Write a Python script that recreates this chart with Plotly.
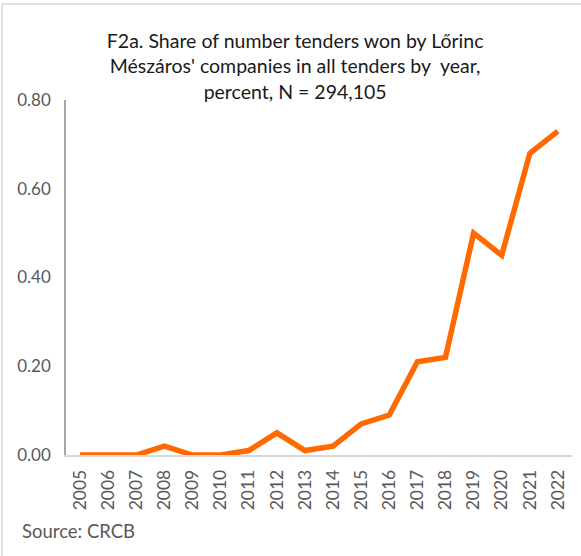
import plotly.graph_objects as go

# share of tenders won, by year
years = ['2005', '2006', '2007', '2008', '2009', '2010', '2011', '2012', '2013',
         '2014', '2015', '2016', '2017', '2018', '2019', '2020', '2021', '2022']
share = [0.0, 0.0, 0.0, 0.02, 0.0, 0.0, 0.01, 0.05, 0.01,
         0.02, 0.07, 0.09, 0.21, 0.22, 0.50, 0.45, 0.68, 0.73]

y_ticks = [0.0, 0.2, 0.4, 0.6, 0.8]

font_name = "Lato"

# plot area in pixels: x 66..572, y 100..455
pw, ph = 506, 355

fig = go.Figure()

fig.add_scatter(x=years, y=share, mode='lines',
                line=dict(color='#FF6A00', width=5.5), showlegend=False)

fig.update_layout(
    width=581, height=556,
    margin=dict(l=66, r=9, t=100, b=101, autoexpand=False),
    paper_bgcolor='white', plot_bgcolor='white',
    font=dict(family=font_name, size=17, color='#595959'),
    title=dict(text="F2a. Share of number tenders won by Lőrinc<br>Mészáros' companies in all tenders by  year,<br>percent, N = 294,105",
               x=0.508, xanchor='center', y=1 - 48 / 556, yanchor='top',
               font=dict(family=font_name, size=19.5, color='#1a1a1a')),
)

fig.update_xaxes(type='category', range=[-0.5, len(years) - 0.5], showgrid=False,
                 showline=True, linecolor='#D9D9D9', linewidth=1.5, automargin=False,
                 tickangle=-90, ticks='', ticklabelstandoff=6, zeroline=False,
                 tickfont=dict(size=17.5))
fig.update_yaxes(range=[0, 0.8], tickvals=y_ticks, tickformat='.2f', showgrid=False,
                 showline=True, linecolor='#A6A6A6', linewidth=1.5, ticks='', automargin=False,
                 ticklabelstandoff=10, zeroline=False)

# chart border
fig.add_shape(type='rect', xref='paper', yref='paper',
              x0=(2 - 66) / pw, x1=(600 - 66) / pw, y0=(455 - 600) / ph, y1=(455 - 4) / ph,
              line=dict(color='#D9D9D9', width=1.5), layer='above')

fig.add_annotation(text="Source: CRCB", xref='paper', yref='paper', x=(20 - 66) / pw, y=(455 - 531) / ph,
                   xanchor='left', yanchor='middle', showarrow=False,
                   font=dict(family=font_name, size=18.5, color='#595959'))

# cut-off text at the top edge
fig.add_annotation(text="g", xref='paper', yref='paper', x=(-1 - 66) / pw, y=(455 + 12) / ph,
                   xanchor='left', yanchor='middle', showarrow=False,
                   font=dict(family=font_name, size=19, color='#1a1a1a'))

# page has no body margin, so the figure sits at the window's corner
fig.write_html("out.html", config={'displayModeBar': False},
               post_script="document.body.style.margin='0';")
